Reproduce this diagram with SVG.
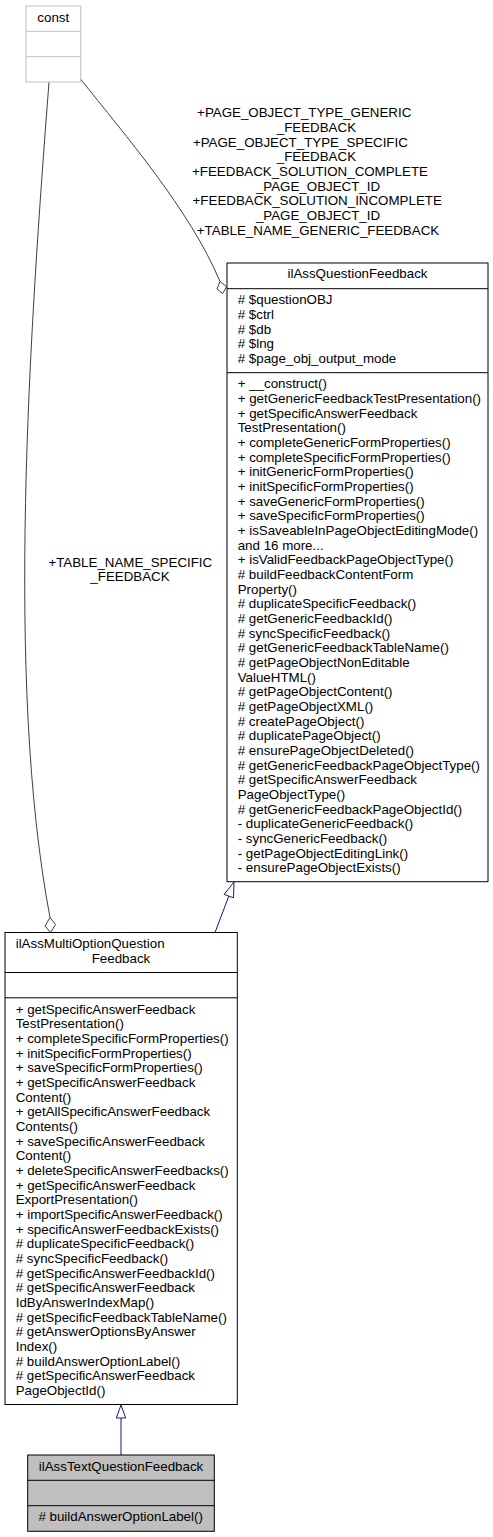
<svg xmlns="http://www.w3.org/2000/svg" width="493" height="1537" viewBox="0 0 493 1537">
<style>
text{font-family:"Liberation Sans",Arial,Helvetica,sans-serif;font-size:13.33px;fill:#000}
.box{fill:#fff;stroke:#000;stroke-width:1}
.gbox{fill:#fff;stroke:#bfbfbf;stroke-width:1}
.cur{fill:#bfbfbf;stroke:#000;stroke-width:1}
.div{stroke:#000;stroke-width:1}
.gdiv{stroke:#bfbfbf;stroke-width:1}
.agg{fill:none;stroke:#404040;stroke-width:1}
.aggh{fill:#fff;stroke:#404040;stroke-width:1}
.inh{fill:none;stroke:#191970;stroke-width:1}
.inhh{fill:#fff;stroke:#191970;stroke-width:1}
.c{text-anchor:middle}
</style>
<rect width="493" height="1537" fill="#fff"/>
<g id="edges">
  <path class="agg" d="M80.5,79 C125,135 190,210 220,281.5"/>
  <polygon class="aggh" points="220,281.5 226.5,286.5 222.7,293.5 217,289"/>
  <path class="agg" d="M49,82 C30,330 5,680 50,917.5"/>
  <polygon class="aggh" points="50,917.5 55.5,924.5 50.5,932.5 45,926"/>
  <path class="inh" d="M215,932.5 L228.8,896.1"/>
  <polygon class="inhh" points="234,882 233.5,897.8 224.1,894.4"/>
  <path class="inh" d="M121,1455 L121,1418"/>
  <polygon class="inhh" points="121,1405 125.7,1418 116.3,1418"/>
  <g id="label-generic">
    <text class="c" x="304.2" y="117.2">+PAGE_OBJECT_TYPE_GENERIC</text>
    <text class="c" x="316.4" y="131.9">_FEEDBACK</text>
    <text class="c" x="300.4" y="146.5">+PAGE_OBJECT_TYPE_SPECIFIC</text>
    <text class="c" x="316.4" y="161.2">_FEEDBACK</text>
    <text class="c" x="310" y="175.9">+FEEDBACK_SOLUTION_COMPLETE</text>
    <text class="c" x="318" y="190.5">_PAGE_OBJECT_ID</text>
    <text class="c" x="317.2" y="205.2">+FEEDBACK_SOLUTION_INCOMPLETE</text>
    <text class="c" x="318" y="219.9">_PAGE_OBJECT_ID</text>
    <text class="c" x="318" y="234.6">+TABLE_NAME_GENERIC_FEEDBACK</text>
  </g>
  <g id="label-specific">
    <text class="c" x="130.3" y="566.5">+TABLE_NAME_SPECIFIC</text>
    <text class="c" x="130" y="581.2">_FEEDBACK</text>
  </g>
</g>
<g id="node-const">
  <rect class="gbox" x="26" y="6" width="54.7" height="76"/>
  <line class="gdiv" x1="26" y1="31.3" x2="80.7" y2="31.3"/>
  <line class="gdiv" x1="26" y1="56.7" x2="80.7" y2="56.7"/>
  <text class="c" x="53.3" y="21.8">const</text>
</g>
<g id="node-ilAssQuestionFeedback">
  <rect class="box" x="227" y="263" width="261" height="618.7"/>
  <line class="div" x1="227" y1="288.7" x2="488" y2="288.7"/>
  <line class="div" x1="227" y1="372.7" x2="488" y2="372.7"/>
  <text class="c" x="357.5" y="278.3">ilAssQuestionFeedback</text>
  <text x="237.7" y="304.2">
    <tspan x="237.7"># $questionOBJ</tspan>
    <tspan x="237.7" dy="14.67"># $ctrl</tspan>
    <tspan x="237.7" dy="14.67"># $db</tspan>
    <tspan x="237.7" dy="14.67"># $lng</tspan>
    <tspan x="237.7" dy="14.67"># $page_obj_output_mode</tspan>
  </text>
  <text x="237.7" y="388.2">
    <tspan x="237.7">+ __construct()</tspan>
    <tspan x="237.7" dy="14.67">+ getGenericFeedbackTestPresentation()</tspan>
    <tspan x="237.7" dy="14.67">+ getSpecificAnswerFeedback</tspan>
    <tspan x="237.7" dy="14.67">TestPresentation()</tspan>
    <tspan x="237.7" dy="14.67">+ completeGenericFormProperties()</tspan>
    <tspan x="237.7" dy="14.67">+ completeSpecificFormProperties()</tspan>
    <tspan x="237.7" dy="14.67">+ initGenericFormProperties()</tspan>
    <tspan x="237.7" dy="14.67">+ initSpecificFormProperties()</tspan>
    <tspan x="237.7" dy="14.67">+ saveGenericFormProperties()</tspan>
    <tspan x="237.7" dy="14.67">+ saveSpecificFormProperties()</tspan>
    <tspan x="237.7" dy="14.67">+ isSaveableInPageObjectEditingMode()</tspan>
    <tspan x="237.7" dy="14.67">and 16 more...</tspan>
    <tspan x="237.7" dy="14.67">+ isValidFeedbackPageObjectType()</tspan>
    <tspan x="237.7" dy="14.67"># buildFeedbackContentForm</tspan>
    <tspan x="237.7" dy="14.67">Property()</tspan>
    <tspan x="237.7" dy="14.67"># duplicateSpecificFeedback()</tspan>
    <tspan x="237.7" dy="14.67"># getGenericFeedbackId()</tspan>
    <tspan x="237.7" dy="14.67"># syncSpecificFeedback()</tspan>
    <tspan x="237.7" dy="14.67"># getGenericFeedbackTableName()</tspan>
    <tspan x="237.7" dy="14.67"># getPageObjectNonEditable</tspan>
    <tspan x="237.7" dy="14.67">ValueHTML()</tspan>
    <tspan x="237.7" dy="14.67"># getPageObjectContent()</tspan>
    <tspan x="237.7" dy="14.67"># getPageObjectXML()</tspan>
    <tspan x="237.7" dy="14.67"># createPageObject()</tspan>
    <tspan x="237.7" dy="14.67"># duplicatePageObject()</tspan>
    <tspan x="237.7" dy="14.67"># ensurePageObjectDeleted()</tspan>
    <tspan x="237.7" dy="14.67"># getGenericFeedbackPageObjectType()</tspan>
    <tspan x="237.7" dy="14.67"># getSpecificAnswerFeedback</tspan>
    <tspan x="237.7" dy="14.67">PageObjectType()</tspan>
    <tspan x="237.7" dy="14.67"># getGenericFeedbackPageObjectId()</tspan>
    <tspan x="237.7" dy="14.67">- duplicateGenericFeedback()</tspan>
    <tspan x="237.7" dy="14.67">- syncGenericFeedback()</tspan>
    <tspan x="237.7" dy="14.67">- getPageObjectEditingLink()</tspan>
    <tspan x="237.7" dy="14.67">- ensurePageObjectExists()</tspan>
  </text>
</g>
<g id="node-ilAssMultiOptionQuestionFeedback">
  <rect class="box" x="5" y="932.5" width="232.3" height="472"/>
  <line class="div" x1="5" y1="972.5" x2="237.3" y2="972.5"/>
  <line class="div" x1="5" y1="997.8" x2="237.3" y2="997.8"/>
  <text x="15.7" y="948.2">ilAssMultiOptionQuestion</text>
  <text class="c" x="121" y="962.9">Feedback</text>
  <text x="15.7" y="1013.5">
    <tspan x="15.7">+ getSpecificAnswerFeedback</tspan>
    <tspan x="15.7" dy="14.67">TestPresentation()</tspan>
    <tspan x="15.7" dy="14.67">+ completeSpecificFormProperties()</tspan>
    <tspan x="15.7" dy="14.67">+ initSpecificFormProperties()</tspan>
    <tspan x="15.7" dy="14.67">+ saveSpecificFormProperties()</tspan>
    <tspan x="15.7" dy="14.67">+ getSpecificAnswerFeedback</tspan>
    <tspan x="15.7" dy="14.67">Content()</tspan>
    <tspan x="15.7" dy="14.67">+ getAllSpecificAnswerFeedback</tspan>
    <tspan x="15.7" dy="14.67">Contents()</tspan>
    <tspan x="15.7" dy="14.67">+ saveSpecificAnswerFeedback</tspan>
    <tspan x="15.7" dy="14.67">Content()</tspan>
    <tspan x="15.7" dy="14.67">+ deleteSpecificAnswerFeedbacks()</tspan>
    <tspan x="15.7" dy="14.67">+ getSpecificAnswerFeedback</tspan>
    <tspan x="15.7" dy="14.67">ExportPresentation()</tspan>
    <tspan x="15.7" dy="14.67">+ importSpecificAnswerFeedback()</tspan>
    <tspan x="15.7" dy="14.67">+ specificAnswerFeedbackExists()</tspan>
    <tspan x="15.7" dy="14.67"># duplicateSpecificFeedback()</tspan>
    <tspan x="15.7" dy="14.67"># syncSpecificFeedback()</tspan>
    <tspan x="15.7" dy="14.67"># getSpecificAnswerFeedbackId()</tspan>
    <tspan x="15.7" dy="14.67"># getSpecificAnswerFeedback</tspan>
    <tspan x="15.7" dy="14.67">IdByAnswerIndexMap()</tspan>
    <tspan x="15.7" dy="14.67"># getSpecificFeedbackTableName()</tspan>
    <tspan x="15.7" dy="14.67"># getAnswerOptionsByAnswer</tspan>
    <tspan x="15.7" dy="14.67">Index()</tspan>
    <tspan x="15.7" dy="14.67"># buildAnswerOptionLabel()</tspan>
    <tspan x="15.7" dy="14.67"># getSpecificAnswerFeedback</tspan>
    <tspan x="15.7" dy="14.67">PageObjectId()</tspan>
  </text>
</g>
<g id="node-ilAssTextQuestionFeedback">
  <rect class="cur" x="27.7" y="1455" width="186.6" height="76.3"/>
  <line class="div" x1="27.7" y1="1480.3" x2="214.3" y2="1480.3"/>
  <line class="div" x1="27.7" y1="1505.7" x2="214.3" y2="1505.7"/>
  <text class="c" x="121" y="1470.5">ilAssTextQuestionFeedback</text>
  <text x="38.4" y="1521.2"># buildAnswerOptionLabel()</text>
</g>
</svg>
